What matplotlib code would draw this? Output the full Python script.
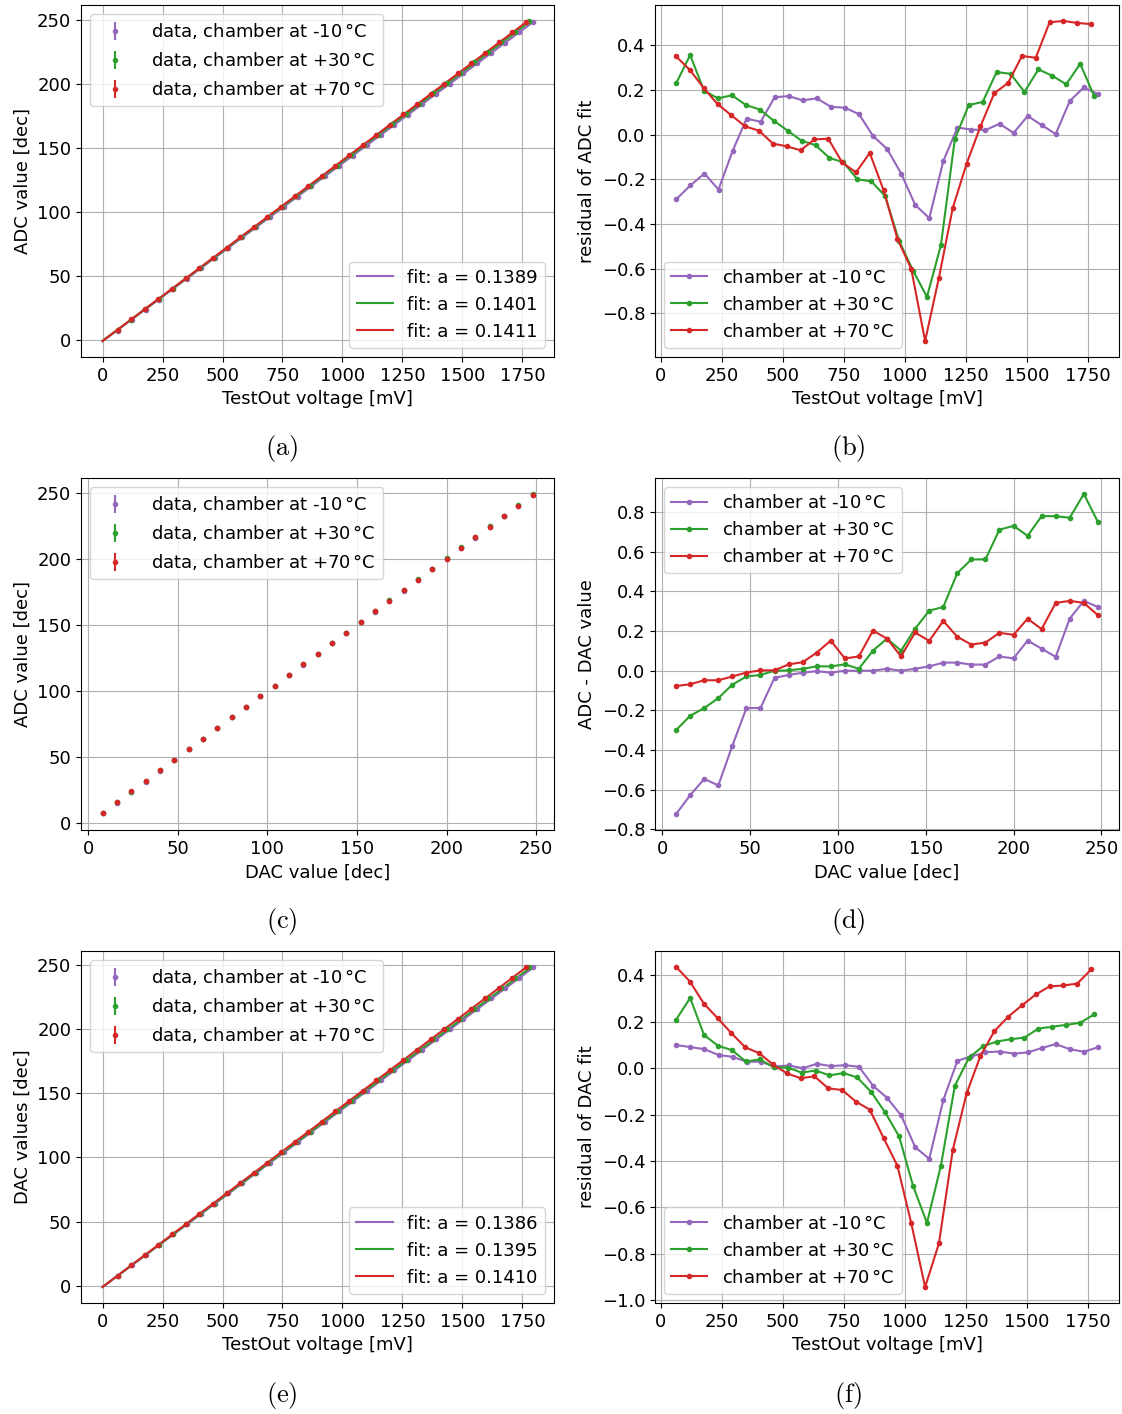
import matplotlib

matplotlib.use('Agg')
import matplotlib.pyplot as plt

plt.rcParams['mathtext.fontset'] = 'cm'
plt.rcParams['font.size'] = 13

TEMPS = ['-10', '+30', '+70']
COLORS = ['tab:purple', 'tab:green', 'tab:red']

# DAC settings
dac_values = [8, 16, 24, 32, 40, 48, 56, 64, 72, 80, 88, 96, 104, 112, 120, 128,
              136, 144, 152, 160, 168, 176, 184, 192, 200, 208, 216, 224, 232, 240, 248]

# measured TestOut voltage [mV] per chamber temperature
volt_m10 = [64.1, 121.7, 179.3, 236.9, 294.5, 352.0, 409.6, 467.2, 524.8, 582.4, 640.0,
            697.6, 755.2, 812.8, 870.4, 928.0, 985.6, 1043.2, 1100.8, 1158.4, 1216.0,
            1273.6, 1331.2, 1388.8, 1446.4, 1504.0, 1561.6, 1619.1, 1676.7, 1734.3, 1791.9]
volt_p30 = [63.5, 120.6, 177.7, 234.8, 291.9, 349.0, 406.1, 463.2, 520.3, 577.4, 634.5,
            691.6, 748.7, 805.8, 862.9, 920.0, 977.1, 1034.2, 1091.3, 1148.4, 1205.5,
            1262.6, 1319.7, 1376.8, 1433.9, 1491.0, 1548.1, 1605.2, 1662.3, 1719.4, 1776.5]
volt_p70 = [63.1, 119.8, 176.5, 233.2, 289.9, 346.6, 403.3, 460.0, 516.7, 573.4, 630.1,
            686.8, 743.5, 800.2, 856.9, 913.6, 970.3, 1027.0, 1083.7, 1140.4, 1197.1,
            1253.8, 1310.5, 1367.2, 1423.9, 1480.6, 1537.3, 1594.0, 1650.7, 1707.4, 1764.1]

# ADC - DAC value
diff_m10 = [-0.722, -0.627, -0.545, -0.578, -0.378, -0.188, -0.188, -0.036, -0.021, -0.010, -0.002,
            -0.010, 0.0, 0.0, 0.0, 0.010, 0.0, 0.010, 0.022, 0.041, 0.041,
            0.031, 0.031, 0.072, 0.062, 0.152, 0.111, 0.070, 0.263, 0.352, 0.321]
diff_p30 = [-0.299, -0.227, -0.188, -0.138, -0.070, -0.029, -0.021, 0.0, 0.002, 0.010, 0.022,
            0.022, 0.032, 0.010, 0.101, 0.162, 0.101, 0.212, 0.303, 0.321, 0.492,
            0.561, 0.561, 0.711, 0.730, 0.680, 0.779, 0.779, 0.771, 0.891, 0.750]
diff_p70 = [-0.077, -0.068, -0.048, -0.048, -0.029, -0.009, 0.002, 0.002, 0.032, 0.043, 0.091,
            0.152, 0.062, 0.072, 0.202, 0.162, 0.072, 0.193, 0.150, 0.251, 0.171,
            0.132, 0.142, 0.191, 0.181, 0.262, 0.210, 0.342, 0.352, 0.342, 0.280]

# residuals of the ADC fit
res_adc_m10 = [-0.289, -0.227, -0.174, -0.246, -0.073, 0.072, 0.058, 0.168, 0.173, 0.154, 0.163,
               0.125, 0.121, 0.092, -0.006, -0.064, -0.174, -0.315, -0.374, -0.118, 0.032,
               0.023, 0.021, 0.049, 0.008, 0.084, 0.043, 0.003, 0.151, 0.212, 0.182]
res_adc_p30 = [0.231, 0.357, 0.197, 0.163, 0.177, 0.133, 0.113, 0.063, 0.018, -0.027, -0.047,
               -0.104, -0.124, -0.200, -0.209, -0.275, -0.476, -0.609, -0.727, -0.496, -0.020,
               0.133, 0.147, 0.281, 0.273, 0.192, 0.293, 0.264, 0.226, 0.318, 0.174]
res_adc_p70 = [0.351, 0.290, 0.209, 0.137, 0.087, 0.037, 0.018, -0.040, -0.052, -0.070, -0.021,
               -0.018, -0.124, -0.169, -0.082, -0.249, -0.467, -0.602, -0.925, -0.641, -0.328,
               -0.130, 0.037, 0.186, 0.232, 0.353, 0.345, 0.504, 0.510, 0.501, 0.496]

# residuals of the DAC fit
res_dac_m10 = [0.100, 0.091, 0.082, 0.057, 0.049, 0.028, 0.028, 0.007, 0.012, 0.0, 0.019,
               0.009, 0.013, 0.006, -0.076, -0.128, -0.204, -0.341, -0.391, -0.137, 0.032,
               0.051, 0.069, 0.072, 0.063, 0.068, 0.087, 0.104, 0.082, 0.071, 0.090]
res_dac_p30 = [0.210, 0.303, 0.143, 0.097, 0.078, 0.029, 0.038, 0.004, 0.003, -0.019, -0.010,
               -0.031, -0.021, -0.040, -0.103, -0.191, -0.294, -0.507, -0.668, -0.421, -0.076,
               0.044, 0.094, 0.115, 0.125, 0.132, 0.171, 0.179, 0.187, 0.196, 0.232]
res_dac_p70 = [0.437, 0.374, 0.279, 0.216, 0.151, 0.090, 0.065, 0.016, -0.022, -0.043, -0.035,
               -0.087, -0.094, -0.144, -0.179, -0.301, -0.421, -0.669, -0.944, -0.756, -0.353,
               -0.109, 0.053, 0.159, 0.222, 0.271, 0.318, 0.353, 0.357, 0.365, 0.426]

# fit parameters y = a * x + b
adc_fit_a = [0.1389, 0.1401, 0.1411]
adc_fit_b = [-0.9, -0.9, -0.9]
dac_fit_a = [0.1386, 0.1395, 0.1410]
dac_fit_b = [-0.9, -0.9, -0.9]

ERR = 0.4

volts = [volt_m10, volt_p30, volt_p70]
diffs = [diff_m10, diff_p30, diff_p70]
res_adc = [res_adc_m10, res_adc_p30, res_adc_p70]
res_dac = [res_dac_m10, res_dac_p30, res_dac_p70]


def data_plot(ax, xs_list, ys_list, fit_a=None, fit_b=None):
    handles = []
    for i in range(3):
        h = ax.errorbar(xs_list[i], ys_list[i], yerr=ERR, fmt='.', color=COLORS[i], ms=6,
                        label='data, chamber at %s$\\,$°C' % TEMPS[i])
        handles.append(h)
    leg1 = ax.legend(handles=handles, loc='upper left', handletextpad=1.0)
    if fit_a is not None:
        lines = []
        for i in range(3):
            xx = [0, max(xs_list[i])]
            yy = [fit_a[i] * x + fit_b[i] for x in xx]
            l, = ax.plot(xx, yy, color=COLORS[i], lw=1.5, label='fit: a = %.4f' % fit_a[i])
            lines.append(l)
        ax.add_artist(leg1)
        ax.legend(handles=lines, loc='lower right')
    ax.grid(True)


def res_plot(ax, xs_list, ys_list, loc):
    for i in range(3):
        ax.plot(xs_list[i], ys_list[i], '.-', color=COLORS[i], ms=6, lw=1.5,
                label='chamber at %s$\\,$°C' % TEMPS[i])
    ax.legend(loc=loc)
    ax.grid(True)


fig = plt.figure(figsize=(11.22, 14.14), dpi=100)

lx, lw = 0.0722, 0.4216
rx, rw = 0.5838, 0.4135
h = 0.249
rows = [0.7475, 0.413, 0.0785]

ax_a = fig.add_axes([lx, rows[0], lw, h])
ax_b = fig.add_axes([rx, rows[0], rw, h])
ax_c = fig.add_axes([lx, rows[1], lw, h])
ax_d = fig.add_axes([rx, rows[1], rw, h])
ax_e = fig.add_axes([lx, rows[2], lw, h])
ax_f = fig.add_axes([rx, rows[2], rw, h])

adc_values = [[d + r for d, r in zip(dac_values, diffs[i])] for i in range(3)]

# (a) ADC vs voltage
data_plot(ax_a, volts, adc_values, adc_fit_a, adc_fit_b)
ax_a.set_xlabel('TestOut voltage [mV]')
ax_a.set_ylabel('ADC value [dec]')

# (b) residual ADC fit
res_plot(ax_b, volts, res_adc, 'lower left')
ax_b.set_xlabel('TestOut voltage [mV]')
ax_b.set_ylabel('residual of ADC fit')

# (c) ADC vs DAC
data_plot(ax_c, [dac_values] * 3, adc_values)
ax_c.set_xlabel('DAC value [dec]')
ax_c.set_ylabel('ADC value [dec]')

# (d) ADC - DAC
res_plot(ax_d, [dac_values] * 3, diffs, 'upper left')
ax_d.set_xlabel('DAC value [dec]')
ax_d.set_ylabel('ADC - DAC value')

# (e) DAC vs voltage
data_plot(ax_e, volts, [dac_values] * 3, dac_fit_a, dac_fit_b)
ax_e.set_xlabel('TestOut voltage [mV]')
ax_e.set_ylabel('DAC values [dec]')

# (f) residual DAC fit
res_plot(ax_f, volts, res_dac, 'lower left')
ax_f.set_xlabel('TestOut voltage [mV]')
ax_f.set_ylabel('residual of DAC fit')

for ax in [ax_a, ax_b, ax_e, ax_f]:
    ax.set_xticks([0, 250, 500, 750, 1000, 1250, 1500, 1750])

caps = ['a', 'b', 'c', 'd', 'e', 'f']
cap_x = [0.251, 0.756]
cap_y = [0.6825, 0.348, 0.0134]
for k, c in enumerate(caps):
    fig.text(cap_x[k % 2], cap_y[k // 2], '$(\\mathrm{%s})$' % c, ha='center', va='center', fontsize=19)

fig.savefig('out.png', dpi=100)
